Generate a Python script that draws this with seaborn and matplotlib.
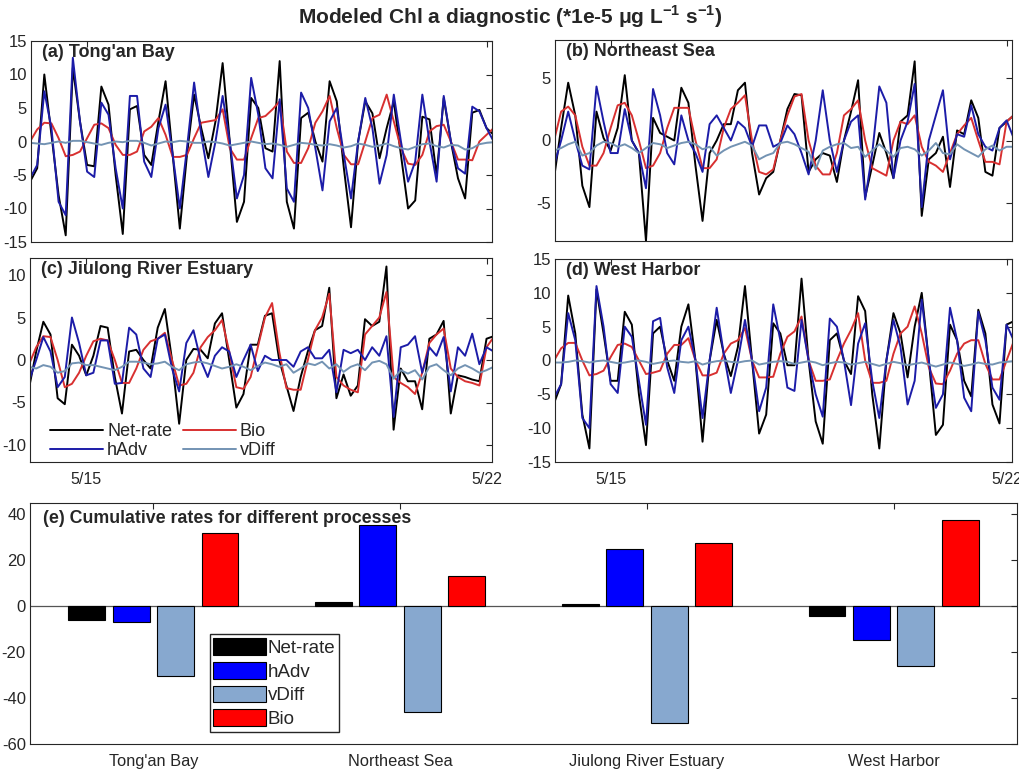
import numpy as np
import pandas as pd
import matplotlib
matplotlib.use("Agg")
import matplotlib.pyplot as plt
import seaborn as sns

# 3-hourly model output, hours since 5/14 00:00
hours = np.arange(66) * 3

# ---- (a) Tong'an Bay
tongan_net = [-6, -4, 10, 1, -8, -14, 11, 3, -3.5, -3.7, 8.2,
              5.5, -5, -13.8, 4.8, 5.3, -2, -3.5, 3, 9, -2, -13,
              -2, 7, 2, -2.5, 3, 11.7, 0, -12, -9, 6.5, 5,
              -1, -1.5, 12, -9, -13, 3.5, 4.3, 0, -3, 9, 6,
              -4, -12.8, 0, 6, 4.2, -2.5, 2, 6, -2, -10, -8.8,
              3.7, 3.3, -5, 6.5, 0, -5.5, -8.5, 4.3, 4.7, 2, 1]
tongan_hadv = [-5.5, -3.5, 7.5, 2, -9, -11, 12.5, 3, -4.5, -5.3, 5.8,
               4, -4, -10, 6.8, 6.8, -3, -5.3, 2, 5.5, -2, -10,
               -1, 8.8, 1, -5.3, 0, 6.8, 0, -8.5, -5, 9.5, 4,
               -4, -5.5, 6.3, -7, -9, 7.3, 5, -1, -7.3, 3, 5,
               -2, -8.5, 0, 6.5, 2, -6.3, -2, 7, 0, -6, -3,
               7, 0, -6, 6.8, 0, -4, -4.8, 5.2, 4.5, 2, 0]
tongan_bio = [0, 1.8, 2.8, 2.7, 0.5, -2.2, -2, -1.5, 0.5, 2.5, 2.7,
              2, -0.5, -2, -2, -1.5, 1.5, 2.2, 3.5, 1, -2.3, -2.3,
              -2, 0.5, 2.8, 3, 3.2, 4.8, -1, -2.7, -2.7, 0.5, 3.5,
              3.8, 4.8, 6, -1.5, -3.2, -3.2, -1, 2.8, 4.5, 6.8, 2,
              -2, -3.4, -3.4, 0, 3.5, 4, 7, 3, -1, -3.3, -3.5,
              -2, 1.5, 2.3, 2.5, 0, -2.7, -2.7, -2.8, 0, 1, 2]
tongan_vdiff = [-0.2, -0.3, -0.4, -0.2, 0, -0.2, 0.1, 0.1, -0.1, -0.3, -0.5,
                -0.2, 0, -0.1, 0.1, 0.1, -0.2, -0.6, -0.3, 0, -0.1, 0.1,
                0, -0.2, -0.2, 0, -0.1, -0.3, -0.6, -0.4, -0.2, 0, -0.2,
                -0.4, -0.3, -0.5, -0.8, -0.5, -0.2, -0.3, -0.5, -0.6, -0.4, -0.6,
                -0.9, -0.7, -0.3, -0.5, -0.8, -0.6, -0.3, -0.7, -1.0, -1.2, -0.8,
                -0.4, -0.3, -0.7, -0.9, -0.5, -0.6, -1.2, -1.0, -0.4, -0.2, -0.1]

# ---- (b) Northeast Sea
ne_net = [-3, 1, 4.6, 2, -3.6, -5.3, 2.3, 0.2, -0.8, 1, 5.2,
          0, -1, -8, 1.8, 0.6, 0.3, 0, 4.2, 3, -2, -6.4,
          -1, 0, 1.3, 1.3, 4, 4.6, -1, -4.3, -3, -2.5, 0,
          2.5, 3.7, 3.6, -2.5, -1.5, -1, -1.2, -3.3, 0, 2.3, 4.8,
          -4.5, -2, 0.6, -1, -3, 1.5, 2, 6.3, -6, -1.5, -1,
          0.3, -3.7, 0.8, 0.5, 3.2, 1.8, -2.5, -2.8, 1, 1.5, 2]
ne_hadv = [-2, 0, 2.3, 0, -2, -2.3, 4.3, 1.5, -1, -1, 2.5,
           0, -1, -3.8, 4.1, 2, -1, -1.9, 2, 0, -1, -2.5,
           1.3, 2, 1, 0, 1.5, 1, -0.5, 1.2, 1.2, -0.5, -0.2,
           1.2, 0.5, -1, -2.7, 0, 4, 0, -2.5, 0, 1.5, 2,
           -4.7, -1, 4.3, 3, -3, 0, 1.5, 4.5, -5.3, 0, 2,
           4, -1.5, 0.5, 0.3, 2.8, 0.5, -0.5, -0.8, 1, 1.6, 0.2]
ne_bio = [0, 2.3, 2.7, 2, -0.5, -2, -2, -1, 1, 2.8, 3,
          2, 0, -2.2, -2, -1, 1, 2.6, 2.6, 2.6, 0, -2.2,
          -2.2, -1.5, 1, 2.5, 3, 3.6, 0, -2.5, -2.7, -2.3, 0,
          2, 3.5, 3.7, 0, -2, -2.7, -2.7, -1, 2, 2.5, 3.2,
          0, -2.2, -2.5, -2.8, 0, 1.5, 1.3, 2, -0.5, -1.7, -2,
          -2.5, -1, 0.5, 1.2, 1.8, 0, -1.7, -1.7, -1.9, 1.5, 2]
ne_vdiff = [-0.8, -0.6, -0.3, -0.1, -1.2, -1.0, -0.4, -0.1, -0.2, -0.5, -0.3,
            -0.6, -1.0, -0.6, -0.2, -0.3, -0.6, -0.4, -0.2, -0.1, -0.3, -0.7,
            -0.5, -1.2, -0.8, -0.5, -0.3, -0.1, -0.4, -1.5, -1.2, -1.0, -0.2,
            -0.1, -0.3, -0.6, -0.9, -2.3, -0.8, -0.5, -0.3, -0.2, -0.6, -0.5,
            -1.3, -0.8, -0.3, -0.8, -1.3, -0.6, -0.5, -0.7, -1.2, -0.8, -0.2,
            -1.0, -1.1, -0.3, -0.7, -1.0, -1.3, -0.7, -0.4, -0.8, -0.5, -0.5]

# ---- (c) Jiulong River Estuary
jl_net = [-3.3, 1, 4.5, 3, -4.5, -5.2, 1.8, 0.5, -1.8, 0.5, 4,
          3.8, -2, -6.3, 1, 1.2, 0, -1, 3.8, 6, 0, -7.5,
          0, 1.3, 1.2, 0.2, 4.3, 5.5, 0, -5.6, -4, 1.8, 1.8,
          5.2, 5.5, 0, -3, -6, -2, 1, 3.5, 4, 8.5, -4.5,
          -1.7, -4.2, -3, 4.8, 4, 4.5, 11, -8.2, -1, -2.5, -2.5,
          -5.8, 2.5, 3, 4.6, -6.3, -1.8, -2, -2.3, -2.5, 2.5, 2.8]
jl_hadv = [-2.5, 0, 2.7, 1, -3.2, -2, 5, 2, -1.8, -1.5, 2.3,
           2.3, -2.8, -2.7, 3.8, 3, -1, -2, 2.5, 3, -1, -3.7,
           2, 3.5, 0, -2, 0.5, 1.5, 1, -2, 0, 1.8, -1.3,
           0.5, 0, 0, 0, -0.8, 1, 1.5, 0.2, 0.2, 1.2, -3.8,
           1.2, 0.8, 1.2, 0, 1.5, 0.5, 2.8, -6.7, 1.5, 1.8, 2.8,
           -1.5, 1.5, 0.5, 2.7, -3.7, 1.5, 0.5, 3.1, -0.5, 1.5, 1]
jl_bio = [-0.5, 1.5, 2.8, 2.7, 0, -3.2, -2.8, -1.5, 0.5, 2.2, 2.5,
          2.3, 0, -2.7, -2.7, -1, 1.2, 2.2, 2.5, 3.2, 0, -3,
          -2.8, -1.5, 1.5, 2.7, 3.5, 4.7, 1, -3.2, -3.4, -2, 1.5,
          5, 6.7, 1, -3.3, -3.5, -3.5, 0, 3.5, 5, 7.8, -2,
          -3, -3.5, -3.8, 3, 4, 5, 8, -2, -2.7, -3.2, -4,
          -1.5, 2, 3, 3.7, -1, -2, -2.5, -2.7, -3, 1.5, 2.7]
jl_vdiff = [-0.8, -1.0, -0.6, -0.8, -1.5, -1.3, -0.4, -0.3, -0.6, -0.6, -0.8,
            -1.0, -1.2, -0.8, -0.2, -0.2, -0.3, -0.5, -0.4, -0.2, -0.8, -1.2,
            -0.5, -0.3, -0.2, -0.4, -0.7, -1.0, -0.8, -0.5, -0.8, -1.2, -0.7,
            -0.3, -0.5, -0.8, -0.5, -1.5, -1.0, -0.4, -0.6, -0.2, -1.0, -0.5,
            -1.4, -0.8, -0.5, -1.2, -0.3, -0.1, -0.5, -2.2, -1.2, -1.6, -1.2,
            -2.3, -0.8, -0.5, -1.2, -1.8, -1.0, -0.6, -1.0, -1.5, -1.2, -0.8]

# ---- (d) West Harbor
wh_net = [-6.3, -3.5, 9.6, 4, -8, -13, 10.5, 4, -3, -3, 7.2,
          5.3, -5, -12.5, 4, 5, 0, -3, 5, 8.3, 0, -12,
          0, 6, 1, -2.3, 2, 11, 0, -10.8, -8, 5.5, 4,
          -0.7, -0.7, 12.1, 0, -9, -12.3, 3, 4, 0, -2, 9.5,
          7.3, -5, -13, 0, 7, 4, -2.5, 5, 10, 0, -11,
          -9.5, 5.3, 3, -3, -5.3, 7.5, 4, -6.5, -9.3, 5.3, 5.8]
wh_hadv = [-5.5, -3.5, 7, 3, -8.5, -10, 11, 5, -3.5, -4.8, 5,
           3.5, -3, -9.5, 5.8, 6.3, -1, -4.8, 3, 5, 0, -8.5,
           0, 7.8, 1, -4.8, 0, 6, 0, -7.5, -4, 8.3, 3,
           -4, -4.5, 6, 0, -5, -8.3, 6.2, 5, 0, -6.6, 2.5,
           5.5, -3, -8.5, 0, 6, 2, -6.5, -3, 9, 0, -7,
           -5, 7.8, 3, -5.5, -7.5, 7.2, 3, -4, -5.8, 5.3, 3]
wh_bio = [0, 1.8, 2.6, 2.6, 0, -2.2, -2, -1.5, 0.5, 2.3, 2.5,
          2, 0, -2, -1.8, -1.5, 1, 2.3, 2.3, 3.3, 0, -2.2,
          -2.2, -1.8, 1, 2.5, 3, 4.8, 0, -2.5, -2.5, -2.4, 1,
          3.5, 4.3, 6.5, 0, -3, -3, -2.8, 0, 2.5, 4.5, 7,
          0, -3.3, -3.3, -3, 1, 4, 5, 8, 4, -1, -3.4,
          -3.5, -1.5, 1, 2.5, 3, 3, -0.5, -2.8, -2.8, 0, 2.8]
wh_vdiff = [-0.3, -0.3, -0.2, 0, -0.1, -0.3, -0.1, 0, -0.2, -0.4, -0.3,
            -0.1, 0, -0.2, -0.5, -0.3, -0.1, 0, -0.2, -0.3, -0.1, -0.6,
            -0.3, -0.1, 0, -0.2, -0.3, -0.1, 0, -0.6, -0.4, -0.2, -0.1,
            -0.2, -0.5, -0.3, -0.1, -0.3, -0.7, -0.4, -0.2, -0.3, -0.6, -0.4,
            -0.2, -0.5, -0.8, -0.5, -0.2, -0.4, -0.7, -0.5, -0.3, -0.6, -0.9,
            -0.6, -0.3, -0.5, -0.8, -0.6, -0.3, -0.5, -0.6, -0.3, -0.2, -0.1]

# ---- (e) cumulative rates
sites = ["Tong'an Bay", "Northeast Sea", "Jiulong River Estuary", "West Harbor"]
processes = ["Net-rate", "hAdv", "vDiff", "Bio"]
cum_net = [-5.8, 1.8, 1.2, -4.1]
cum_hadv = [-7, 35.3, 25.1, -14.9]
cum_vdiff = [-30.4, -46.1, -51, -26]
cum_bio = [31.8, 13.1, 27.7, 37.5]

line_colors = {"Net-rate": "#000000", "Bio": "#d83030", "hAdv": "#1c1ca8", "vDiff": "#7393b3"}
bar_colors = {"Net-rate": "#000000", "hAdv": "#0000ff", "vDiff": "#87a8cf", "Bio": "#ff0000"}

sns.set_style("white")
plt.rcParams["font.family"] = ["Liberation Sans", "DejaVu Sans"]
plt.rcParams["axes.unicode_minus"] = False
plt.rcParams["mathtext.fontset"] = "custom"
plt.rcParams["mathtext.rm"] = "Liberation Sans"
plt.rcParams["mathtext.bf"] = "Liberation Sans:bold"

W, H = 1020, 769
fig = plt.figure(figsize=(W / 100, H / 100), dpi=100)


def box(l, t, r, b):
    return [l / W, 1 - b / H, (r - l) / W, (b - t) / H]


def matlab_look(ax, xsize=12):
    for s in ax.spines.values():
        s.set_color("#262626")
        s.set_linewidth(0.8)
    ax.tick_params(direction="in", top=True, right=True, length=4, width=0.8,
                   labelsize=12, colors="#262626", pad=3)
    ax.tick_params(axis="x", pad=7, labelsize=xsize)
    ax.set_xlabel("")
    ax.set_ylabel("")


panels = [
    ("(a) Tong'an Bay", box(31, 41, 492, 242), (-15, 15), np.arange(-15, 16, 5),
     tongan_net, tongan_bio, tongan_hadv, tongan_vdiff, False),
    ("(b) Northeast Sea", box(555, 40, 1012, 241), (-8, 8), [-5, 0, 5],
     ne_net, ne_bio, ne_hadv, ne_vdiff, False),
    ("(c) Jiulong River Estuary", box(30, 258, 492, 462), (-12, 12), [-10, -5, 0, 5, 10],
     jl_net, jl_bio, jl_hadv, jl_vdiff, True),
    ("(d) West Harbor", box(555, 259, 1012, 462), (-15, 15), np.arange(-15, 16, 5),
     wh_net, wh_bio, wh_hadv, wh_vdiff, True),
]

for title, pos, ylim, yticks, net, bio, hadv, vdiff, bottom in panels:
    ax = fig.add_axes(pos)
    for name, vals in [("Net-rate", net), ("Bio", bio), ("hAdv", hadv), ("vDiff", vdiff)]:
        sns.lineplot(x=hours, y=np.array(vals, dtype=float), ax=ax, color=line_colors[name],
                     linewidth=1.4, sort=False, legend=False)
    ax.set_xlim(0.4, 194.3)
    ax.set_ylim(*ylim)
    ax.set_yticks(yticks)
    ax.set_xticks([24, 192])
    ax.set_xticklabels(["5/15", "5/22"] if bottom else [])
    matlab_look(ax, xsize=11.5)
    ax.text(0.024, 0.985, title, transform=ax.transAxes, ha="left", va="top",
            fontsize=13, fontweight="bold")
    if title.startswith("(c)"):
        ln = ax.get_lines()
        ax.legend([ln[0], ln[2], ln[1], ln[3]], ["Net-rate", "hAdv", "Bio", "vDiff"],
                  ncol=2, loc="lower left", bbox_to_anchor=(0.028, -0.02), borderaxespad=0,
                  frameon=False, fontsize=13, handlelength=2.95, handletextpad=0.2,
                  columnspacing=0.6, labelspacing=0.1)

# ---- bar panel
df = pd.DataFrame({
    "site": sites * 4,
    "process": np.repeat(processes, 4),
    "value": cum_net + cum_hadv + cum_vdiff + cum_bio,
})
ax_e = fig.add_axes(box(30, 503, 1017, 744))
sns.barplot(data=df, x="site", y="value", hue="process", order=sites, hue_order=processes,
            palette=bar_colors, saturation=1, width=0.72, gap=0.17, edgecolor="black",
            linewidth=0.8, errorbar=None, ax=ax_e)
ax_e.axhline(0, color="#555555", linewidth=0.9, zorder=0.5)
ax_e.set_xlim(-0.5, 3.5)
ax_e.set_ylim(-60, 45)
ax_e.set_yticks(np.arange(-60, 41, 20))
matlab_look(ax_e, xsize=11.8)
ax_e.text(0.013, 0.972, "(e) Cumulative rates for different processes", transform=ax_e.transAxes,
          ha="left", va="top", fontsize=12.8, fontweight="bold")
handles, labels = ax_e.get_legend_handles_labels()
ax_e.legend(handles, labels, loc="upper left", bbox_to_anchor=(0.182, 0.456), frameon=True,
            fancybox=False, edgecolor="#262626", framealpha=1, fontsize=13.5,
            handlelength=2.8, handleheight=1.0, handletextpad=0.1, borderpad=0.2,
            labelspacing=0.27, borderaxespad=0)

fig.text(0.5, 1 - 17 / H, r"Modeled Chl a diagnostic (*1e-5 μg L$^{\mathbf{-1}}$ s$^{\mathbf{-1}}$)",
         ha="center", va="center", fontsize=15, fontweight="bold")

fig.savefig("out.png", dpi=100)
